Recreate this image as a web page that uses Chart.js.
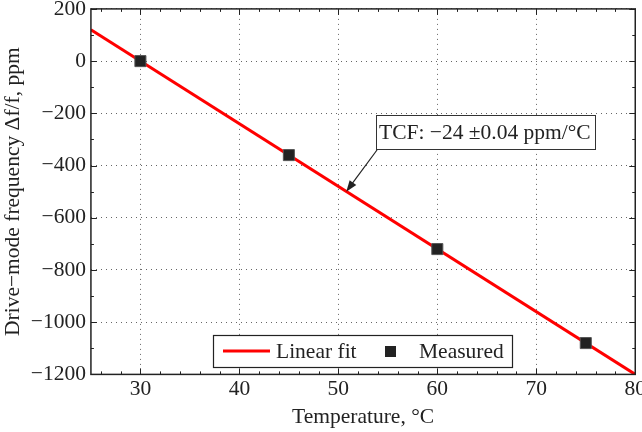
<!DOCTYPE html>
<html lang="en">
<head>
    <meta charset="UTF-8">
    <title>TCF</title>
    <script src="https://cdn.jsdelivr.net/npm/chart.js"></script>
    <style>
        html, body { margin: 0; background: #fff; overflow: hidden; width: 642px; height: 432px; }
        canvas { display: block; margin-top: -9px; }
    </style>
</head>
<body>
    <canvas id="canvas_tcf" width="648" height="439"></canvas>
<script>
    // dados
    const tempMedida = [30, 45, 60, 75];
    const freqMedida = [0, -360, -720, -1080];
    const tempAjuste = [25, 80];
    const freqAjuste = [120, -1200];
    const xTicks = [30, 40, 50, 60, 70, 80];
    const yTicks = [-1200, -1000, -800, -600, -400, -200, 0, 200];
    const textoTCF = 'TCF: \u221224 \u00b10.04 ppm/\u00b0C';
    const pontaSeta = { x: 50.8, y: -500 };

    const fonte = 'Liberation Serif';
    const tam = 21.5;
    const desloc = 9; // canvas sobe 9px na página

    // moldura + ticks internos (maiores e menores)
    const molduraPlugin = {
        id: 'moldura',
        afterDatasetsDraw(chart) {
            const ctx = chart.ctx;
            const a = chart.chartArea;
            const sx = chart.scales.x;
            const sy = chart.scales.y;
            ctx.save();
            ctx.strokeStyle = '#222';
            ctx.lineWidth = 1;
            ctx.beginPath();
            for (let v = 26; v <= 80; v += 2) {
                const px = Math.round(sx.getPixelForValue(v)) + 0.5;
                const len = v % 10 === 0 ? 6 : 3;
                ctx.moveTo(px, a.bottom); ctx.lineTo(px, a.bottom - len);
                ctx.moveTo(px, a.top); ctx.lineTo(px, a.top + len);
            }
            for (let v = -1200; v <= 200; v += 100) {
                const py = Math.round(sy.getPixelForValue(v)) + 0.5;
                const len = v % 200 === 0 ? 6 : 3;
                ctx.moveTo(a.left, py); ctx.lineTo(a.left + len, py);
                ctx.moveTo(a.right, py); ctx.lineTo(a.right - len, py);
            }
            ctx.stroke();
            ctx.lineWidth = 1.5;
            ctx.strokeRect(a.left, a.top, a.right - a.left, a.bottom - a.top);
            ctx.restore();
        },
        afterDraw(chart) {
            const ctx = chart.ctx;
            const sx = chart.scales.x;
            const sy = chart.scales.y;
            ctx.save();
            ctx.font = tam + 'px "' + fonte + '"';
            ctx.textBaseline = 'middle';

            // anotação TCF
            const bx = 376, by = 115 + desloc, bw = 219, bh = 34;
            ctx.fillStyle = '#fff';
            ctx.fillRect(bx, by, bw, bh);
            ctx.strokeStyle = '#333';
            ctx.lineWidth = 1;
            ctx.strokeRect(bx + 0.5, by + 0.5, bw, bh);
            ctx.fillStyle = '#222';
            ctx.textAlign = 'left';
            ctx.fillText(textoTCF, bx + 3, by + bh / 2 + 1);

            const tx = sx.getPixelForValue(pontaSeta.x);
            const ty = sy.getPixelForValue(pontaSeta.y);
            const ox = bx + 1, oy = by + bh + 1;
            const ang = Math.atan2(ty - oy, tx - ox);
            ctx.strokeStyle = '#222';
            ctx.lineWidth = 1.2;
            ctx.beginPath();
            ctx.moveTo(ox, oy);
            ctx.lineTo(tx - 8 * Math.cos(ang), ty - 8 * Math.sin(ang));
            ctx.stroke();
            ctx.beginPath();
            ctx.moveTo(tx, ty);
            ctx.lineTo(tx - 12 * Math.cos(ang - 0.35), ty - 12 * Math.sin(ang - 0.35));
            ctx.lineTo(tx - 12 * Math.cos(ang + 0.35), ty - 12 * Math.sin(ang + 0.35));
            ctx.closePath();
            ctx.fill();

            // legenda
            const lx = 213, ly = 335 + desloc, lw = 299, lh = 32;
            ctx.fillStyle = '#fff';
            ctx.fillRect(lx, ly, lw, lh);
            ctx.strokeStyle = '#222';
            ctx.strokeRect(lx + 0.5, ly + 0.5, lw, lh);
            const cy = ly + lh / 2;
            ctx.strokeStyle = '#ff0000';
            ctx.lineWidth = 3;
            ctx.beginPath();
            ctx.moveTo(lx + 10, cy); ctx.lineTo(lx + 57, cy);
            ctx.stroke();
            ctx.fillStyle = '#222';
            ctx.fillText(chart.data.datasets[0].label, lx + 63, cy + 1);
            ctx.fillRect(lx + 172, cy - 5, 11, 11);
            ctx.fillText(chart.data.datasets[1].label, lx + 206, cy + 1);
            ctx.restore();
        }
    };

    new Chart(document.getElementById('canvas_tcf'), {
        type: 'scatter',
        data: {
            datasets: [{
                label: 'Linear fit',
                data: tempAjuste.map((t, i) => ({ x: t, y: freqAjuste[i] })),
                showLine: true,
                borderColor: '#ff0000',
                borderWidth: 3,
                pointRadius: 0,
                order: 2
            },
            {
                label: 'Measured',
                data: tempMedida.map((t, i) => ({ x: t, y: freqMedida[i] })),
                pointStyle: 'rect',
                pointRadius: 7.8,
                backgroundColor: '#222',
                borderColor: '#555',
                borderWidth: 1,
                order: 1
            }]
        },
        options: {
            responsive: false,
            animation: false,
            layout: { padding: { top: 0, right: 0, left: 0, bottom: 0 } },
            plugins: {
                legend: { display: false },
                tooltip: { enabled: false }
            },
            scales: {
                x: {
                    type: 'linear',
                    min: 25,
                    max: 80,
                    afterBuildTicks: (s) => { s.ticks = xTicks.map(v => ({ value: v })); },
                    grid: { color: '#666', lineWidth: 1, drawTicks: false },
                    border: { display: false, dash: [1, 4] },
                    ticks: { color: '#222', padding: 2, font: { family: fonte, size: tam } },
                    title: { display: true, text: 'Temperature, \u00b0C', color: '#222', padding: { top: 0, bottom: 0 }, font: { family: fonte, size: tam } }
                },
                y: {
                    min: -1200,
                    max: 200,
                    afterBuildTicks: (s) => { s.ticks = yTicks.map(v => ({ value: v })); },
                    grid: { color: '#666', lineWidth: 1, drawTicks: false },
                    border: { display: false, dash: [1, 4] },
                    ticks: {
                        color: '#222', padding: 5, font: { family: fonte, size: tam },
                        callback: (v) => String(v).replace('-', '\u2212')
                    },
                    title: { display: true, text: 'Drive\u2212mode frequency \u0394f/f, ppm', color: '#222', padding: { top: 0, bottom: 0 }, font: { family: fonte, size: tam } }
                }
            }
        },
        plugins: [molduraPlugin]
    });
</script>
</body>
</html>
